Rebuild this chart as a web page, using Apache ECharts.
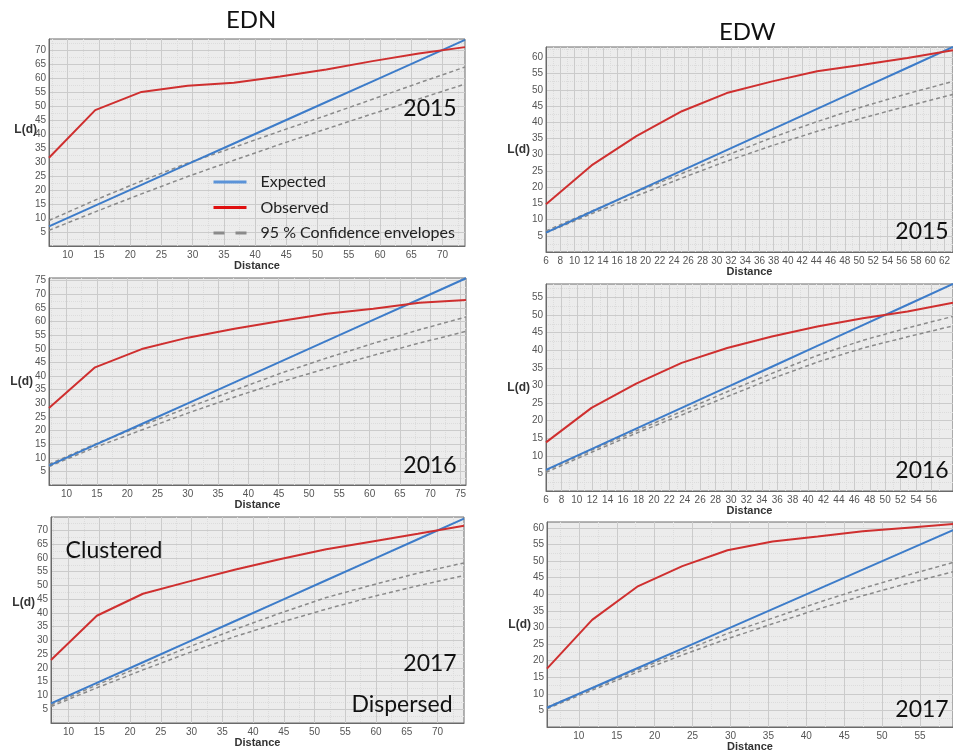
<!DOCTYPE html>
<html>
<head>
<meta charset="utf-8">
<script src="https://cdn.jsdelivr.net/npm/echarts@6/dist/echarts.min.js"></script>
<style>html,body{margin:0;padding:0;background:#fff}#chart{width:953px;height:753px}</style>
</head>
<body>
<div id="chart"></div>
<script>
// ---------- DATA ----------
// EDN 2015
const ednDist2015 = [7.0, 14.4, 21.8, 29.2, 36.6, 44.0, 51.4, 58.8, 66.2, 73.6];
const ednExp2015  = [7.0, 14.4, 21.8, 29.2, 36.6, 44.0, 51.4, 58.8, 66.2, 73.6];
const ednObs2015  = [31.5, 48.5, 55.0, 57.2, 58.3, 60.5, 63.0, 66.0, 68.7, 71.0];
const ednUp2015   = [9.1, 16.4, 23.2, 29.6, 35.2, 41.0, 46.6, 52.4, 58.2, 63.9];
const ednLo2015   = [5.6, 12.2, 18.6, 24.8, 30.6, 36.3, 41.8, 47.2, 52.5, 57.8];
// EDW 2015
const edwDist2015 = [6.0, 12.4, 18.7, 25.1, 31.4, 37.8, 44.1, 50.5, 56.8, 63.2];
const edwExp2015  = [6.0, 12.4, 18.7, 25.1, 31.4, 37.8, 44.1, 50.5, 56.8, 63.2];
const edwObs2015  = [14.7, 26.7, 35.7, 43.4, 49.0, 52.6, 55.7, 57.7, 59.8, 62.2];
const edwUp2015   = [6.5, 12.6, 18.5, 24.2, 29.8, 35.3, 40.2, 44.8, 48.8, 52.6];
const edwLo2015   = [5.9, 11.8, 17.3, 22.8, 28.0, 32.8, 37.2, 41.3, 45.0, 48.6];
// EDN 2016
const ednDist2016 = [7.1, 14.7, 22.4, 30.0, 37.7, 45.3, 52.9, 60.6, 68.2, 75.9];
const ednExp2016  = [7.1, 14.7, 22.4, 30.0, 37.7, 45.3, 52.9, 60.6, 68.2, 75.9];
const ednObs2016  = [28.3, 43.2, 49.9, 54.1, 57.4, 60.2, 62.9, 64.7, 66.9, 67.9];
const ednUp2016   = [7.6, 15.0, 21.8, 28.4, 34.8, 41.0, 46.6, 52.0, 57.0, 61.7];
const ednLo2016   = [6.8, 13.8, 20.2, 26.4, 32.3, 37.8, 42.8, 47.6, 52.1, 56.4];
// EDW 2016
const edwDist2016 = [6.0, 11.9, 17.7, 23.6, 29.5, 35.3, 41.2, 47.1, 52.9, 58.8];
const edwExp2016  = [6.0, 11.9, 17.7, 23.6, 29.5, 35.3, 41.2, 47.1, 52.9, 58.8];
const edwObs2016  = [13.8, 23.6, 30.5, 36.4, 40.6, 43.9, 46.7, 49.1, 51.0, 53.5];
const edwUp2016   = [5.8, 11.6, 17.1, 22.6, 28.2, 33.4, 38.5, 42.8, 46.3, 49.6];
const edwLo2016   = [5.3, 11.0, 16.4, 21.6, 26.8, 31.9, 36.6, 40.6, 43.8, 46.9];
// EDN 2017
const ednDist2017 = [7.15, 14.6, 22.1, 29.5, 37.0, 44.5, 51.9, 59.4, 66.8, 74.3];
const ednExp2017  = [7.15, 14.6, 22.1, 29.5, 37.0, 44.5, 51.9, 59.4, 66.8, 74.3];
const ednObs2017  = [22.9, 39.0, 47.0, 51.4, 55.7, 59.6, 63.2, 66.0, 68.8, 71.7];
const ednUp2017   = [6.6, 13.8, 20.9, 27.6, 34.0, 40.0, 45.6, 50.2, 54.5, 58.2];
const ednLo2017   = [6.0, 12.8, 19.3, 25.5, 31.4, 36.6, 41.4, 45.9, 49.9, 53.6];
// EDW 2017
const edwDist2017 = [5.8, 11.75, 17.7, 23.65, 29.6, 35.55, 41.5, 47.45, 53.4, 59.35];
const edwExp2017  = [5.8, 11.75, 17.7, 23.65, 29.6, 35.55, 41.5, 47.45, 53.4, 59.35];
const edwObs2017  = [17.6, 32.3, 42.3, 48.5, 53.3, 55.9, 57.4, 59.0, 60.1, 61.2];
const edwUp2017   = [6.0, 11.6, 17.2, 22.8, 28.2, 32.8, 37.5, 41.8, 45.8, 49.6];
const edwLo2017   = [5.5, 11.1, 16.5, 21.7, 26.6, 31.1, 35.5, 39.6, 43.3, 46.8];

// tick labels
const xTicksEdn2015 = [10, 15, 20, 25, 30, 35, 40, 45, 50, 55, 60, 65, 70];
const xTicksEdn2016 = [10, 15, 20, 25, 30, 35, 40, 45, 50, 55, 60, 65, 70, 75];
const xTicksEdn2017 = [10, 15, 20, 25, 30, 35, 40, 45, 50, 55, 60, 65, 70];
const xTicksEdw2015 = [6, 8, 10, 12, 14, 16, 18, 20, 22, 24, 26, 28, 30, 32, 34, 36, 38, 40, 42, 44, 46, 48, 50, 52, 54, 56, 58, 60, 62];
const xTicksEdw2016 = [6, 8, 10, 12, 14, 16, 18, 20, 22, 24, 26, 28, 30, 32, 34, 36, 38, 40, 42, 44, 46, 48, 50, 52, 54, 56];
const xTicksEdw2017 = [10, 15, 20, 25, 30, 35, 40, 45, 50, 55];
const yTicks75 = [5, 10, 15, 20, 25, 30, 35, 40, 45, 50, 55, 60, 65, 70, 75];
const yTicks70 = [5, 10, 15, 20, 25, 30, 35, 40, 45, 50, 55, 60, 65, 70];
const yTicks60 = [5, 10, 15, 20, 25, 30, 35, 40, 45, 50, 55, 60];
const yTicks55 = [5, 10, 15, 20, 25, 30, 35, 40, 45, 50, 55];
// minor grid positions
const minorFive = [2.5, 7.5, 12.5, 17.5, 22.5, 27.5, 32.5, 37.5, 42.5, 47.5, 52.5, 57.5, 62.5, 67.5, 72.5, 77.5];
const minorTwo = [7, 9, 11, 13, 15, 17, 19, 21, 23, 25, 27, 29, 31, 33, 35, 37, 39, 41, 43, 45, 47, 49, 51, 53, 55, 57, 59, 61, 63];

// ---------- LAYOUT ----------
const panels = [
  {g:{left:49, top:39, width:416, height:207}, xMin:7.0, xMax:73.6, yMax:73.9,
   d:[ednDist2015, ednExp2015, ednObs2015, ednUp2015, ednLo2015], xT:xTicksEdn2015, xM:minorFive, yT:yTicks70, nameGap:12, nameLH:25},
  {g:{left:546, top:47, width:407, height:205}, xMin:6.0, xMax:63.2, yMax:63.2,
   d:[edwDist2015, edwExp2015, edwObs2015, edwUp2015, edwLo2015], xT:xTicksEdw2015, xM:minorTwo, yT:yTicks60, nameGap:16, nameLH:0},
  {g:{left:49, top:278, width:417, height:207}, xMin:7.1, xMax:75.9, yMax:76.0,
   d:[ednDist2016, ednExp2016, ednObs2016, ednUp2016, ednLo2016], xT:xTicksEdn2016, xM:minorFive, yT:yTicks75, nameGap:16, nameLH:0},
  {g:{left:546, top:284, width:416, height:207}, xMin:6.0, xMax:58.8, yMax:58.8,
   d:[edwDist2016, edwExp2016, edwObs2016, edwUp2016, edwLo2016], xT:xTicksEdw2016, xM:minorTwo, yT:yTicks55, nameGap:16, nameLH:0},
  {g:{left:51, top:517, width:413, height:206}, xMin:7.15, xMax:74.3, yMax:74.9,
   d:[ednDist2017, ednExp2017, ednObs2017, ednUp2017, ednLo2017], xT:xTicksEdn2017, xM:minorFive, yT:yTicks70, nameGap:16, nameLH:34},
  {g:{left:547, top:522, width:413, height:208}, xMin:5.8, xMax:59.35, yMax:61.8,
   d:[edwDist2017, edwExp2017, edwObs2017, edwUp2017, edwLo2017], xT:xTicksEdw2017, xM:minorFive, yT:yTicks60, nameGap:16, nameLH:0}
];

const BLUE = '#3d7cc9', RED = '#cf2f2f', GRAY = '#8a8a8a';
const labelFont = {color:'#555555', fontSize:10, fontFamily:'Liberation Sans'};

const option = {
  animation:false,
  backgroundColor:'#ffffff',
  title:[
    {text:'EDN', left:226, top:8, padding:0, textStyle:{fontSize:24, fontWeight:'normal', fontFamily:'Lato', color:'#111'}},
    {text:'EDW', left:719, top:20, padding:0, textStyle:{fontSize:24, fontWeight:'normal', fontFamily:'Lato', color:'#111'}}
  ],
  legend:{
    orient:'vertical', left:207, top:169, itemWidth:33, itemHeight:14, itemGap:9.5,
    itemStyle:{opacity:0},
    textStyle:{fontFamily:'Lato', fontSize:16, color:'#222', padding:[0,0,0,9]},
    data:[
      {name:'Expected', lineStyle:{width:3, color:'#5b93d8'}},
      {name:'Observed', lineStyle:{width:3, color:'#e01010'}},
      {name:'95 % Confidence envelopes', lineStyle:{width:3, color:'#8a8a8a', type:[11,11]}}
    ]
  },
  grid:[], xAxis:[], yAxis:[], series:[], graphic:[]
};

panels.forEach((p, i) => {
  option.grid.push(Object.assign({show:true, backgroundColor:'#ececec', borderColor:'#6a6a6a', borderWidth:1}, p.g));
  // main x axis
  option.xAxis.push({
    type:'value', gridIndex:i, min:p.xMin, max:p.xMax, position:'bottom', z:3,
    name:'Distance', nameLocation:'middle', nameGap:14, nameMoveOverlap:false,
    nameTextStyle:{fontFamily:'Liberation Sans', fontWeight:'bold', fontSize:11, color:'#333'},
    axisLine:{show:true, lineStyle:{color:'#6a6a6a'}},
    axisTick:{show:false, customValues:p.xT},
    axisLabel:{customValues:p.xT, margin:4, ...labelFont},
    splitLine:{show:true, lineStyle:{color:'#cbcbcb', width:1}}
  });
  // minor x axis
  option.xAxis.push({
    type:'value', gridIndex:i, min:p.xMin, max:p.xMax, position:'bottom', z:1,
    axisLine:{show:false}, axisLabel:{show:false},
    axisTick:{show:false, customValues:p.xM},
    splitLine:{show:true, lineStyle:{color:'#dcdcdc', width:1, type:'dotted'}}
  });
  const nts = {fontFamily:'Liberation Sans', fontWeight:'bold', fontSize:12, color:'#333'};
  if (p.nameLH) { nts.verticalAlign = 'bottom'; nts.lineHeight = p.nameLH; }
  option.yAxis.push({
    type:'value', gridIndex:i, min:0, max:p.yMax, position:'left', z:3,
    name:'L(d)', nameLocation:'middle', nameRotate:0, nameGap:p.nameGap, nameMoveOverlap:false,
    nameTextStyle:nts,
    axisLine:{show:true, lineStyle:{color:'#6a6a6a'}},
    axisTick:{show:false, customValues:p.yT},
    axisLabel:{customValues:p.yT, margin:3, ...labelFont},
    splitLine:{show:true, lineStyle:{color:'#cbcbcb', width:1}}
  });
  option.yAxis.push({
    type:'value', gridIndex:i, min:0, max:p.yMax, position:'left', z:1,
    axisLine:{show:false}, axisLabel:{show:false},
    axisTick:{show:false, customValues:minorFive},
    splitLine:{show:true, lineStyle:{color:'#dcdcdc', width:1, type:'dotted'}}
  });
  const [dist, exp, obs, up, lo] = p.d;
  const pair = arr => dist.map((x, k) => [x, arr[k]]);
  const base = {type:'line', xAxisIndex:2*i, yAxisIndex:2*i, symbol:'none', silent:true, clip:true};
  option.series.push(Object.assign({}, base, {name:'95 % Confidence envelopes', data:pair(up), z:3, lineStyle:{color:GRAY, width:1.5, type:[4,3]}, itemStyle:{color:GRAY}}));
  option.series.push(Object.assign({}, base, {name:'95 % Confidence envelopes', data:pair(lo), z:3, lineStyle:{color:GRAY, width:1.5, type:[4,3]}, itemStyle:{color:GRAY}}));
  option.series.push(Object.assign({}, base, {name:'Expected', data:pair(exp), z:4, lineStyle:{color:BLUE, width:2}, itemStyle:{color:BLUE}}));
  option.series.push(Object.assign({}, base, {name:'Observed', data:pair(obs), z:5, lineStyle:{color:RED, width:2}, itemStyle:{color:RED}}));
});

const annot = (text, x, y) => ({type:'text', x:x, y:y, z:50, style:{text:text, fontFamily:'Lato', fontSize:23, fill:'#111', textAlign:'center', textVerticalAlign:'middle'}});
option.graphic = [
  annot('2015', 430, 109),
  annot('2015', 922, 232),
  annot('2016', 430, 466),
  annot('2016', 922, 471),
  annot('Clustered', 114, 551),
  annot('2017', 430, 664),
  annot('Dispersed', 402, 705),
  annot('2017', 922, 710)
];

const chart = echarts.init(document.getElementById('chart'), null, {renderer:'canvas'});
chart.setOption(option);
</script>
</body>
</html>
